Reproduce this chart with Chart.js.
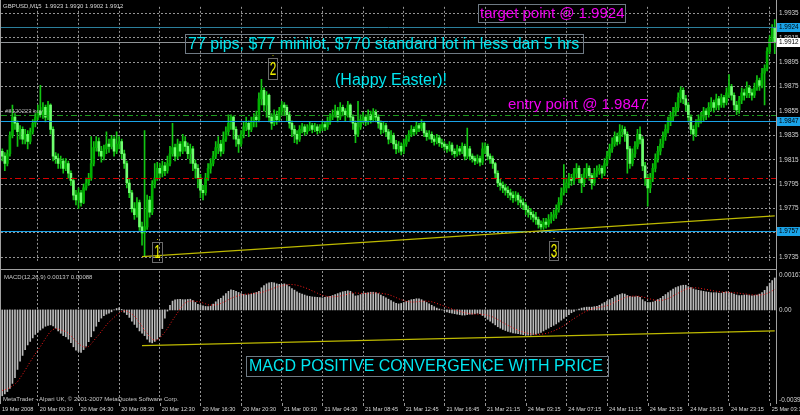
<!DOCTYPE html>
<html><head><meta charset="utf-8">
<script src="https://cdn.jsdelivr.net/npm/chart.js@4.4.1/dist/chart.umd.min.js"></script>
<style>
html,body{margin:0;padding:0;background:#000;width:800px;height:415px;overflow:hidden}
#w1{position:absolute;left:0;top:0;width:800px;height:268px}
#w2{position:absolute;left:0;top:268px;width:800px;height:147px}
</style></head><body>
<div id="w1"><canvas id="c1"></canvas></div>
<div id="w2"><canvas id="c2"></canvas></div>
<script>
// ---------- DATA (prices in pips above 1.9700, MACD in 0.00001 units) ----------
const PIP_BASE = 1.9700;
const OPEN0 = 122;
const closePips = [
118,112,120,135,150,145,138,140,132,136,
130,138,145,150,155,152,158,150,160,140,
118,116,112,114,108,112,104,98,86,82,
88,80,92,96,100,112,125,130,122,118,
124,128,126,132,122,128,130,120,112,96,
88,75,70,80,60,55,60,82,72,95,
100,108,104,110,106,112,120,125,118,128,
122,130,126,120,124,112,108,100,90,88,
100,108,112,118,125,128,122,132,138,145,
150,140,132,128,136,142,145,140,146,150,
148,165,172,160,168,150,145,152,148,155,
160,158,152,145,140,136,132,140,142,138,
141,143,140,142,139,141,144,142,146,150,
152,155,150,158,155,152,160,150,145,136,
142,148,150,146,152,148,154,150,145,140,
143,138,132,135,128,124,126,122,128,132,
136,140,138,143,141,145,137,134,136,132,
130,133,129,128,126,124,127,122,120,124,
122,126,118,124,118,116,114,116,113,124,
126,118,116,112,104,96,94,92,90,88,
86,84,86,82,80,78,74,72,70,68,
66,62,60,64,62,66,68,70,74,80,
88,92,96,100,98,104,108,100,96,104,
108,102,96,104,106,108,104,112,118,124,
128,134,130,138,140,136,124,112,120,126,
136,132,110,100,92,100,108,116,122,128,
134,140,146,150,154,158,166,172,165,160,
150,140,136,145,148,150,155,152,158,162,
158,165,160,166,162,170,175,168,160,156,
164,170,168,174,170,168,174,180,176,186,
190,204,214,223,212];
const highPips = [
124,121,123,138,160,153,147,143,142,140,
139,141,148,153,160,176,162,160,163,161,
142,121,120,118,116,116,114,106,100,90,
92,90,95,100,104,134,130,134,133,126,
127,138,132,135,134,138,134,132,123,114,
99,90,80,84,82,64,139,86,85,98,
112,113,112,114,113,118,126,145,128,132,
130,136,134,129,128,126,115,111,103,94,
104,112,116,122,130,134,131,138,142,152,
152,151,142,135,139,146,150,147,150,153,
155,170,181,174,171,169,153,156,155,158,
163,162,160,154,147,143,139,143,145,144,
144,146,145,145,144,144,147,146,150,153,
156,160,158,162,160,157,163,161,152,147,
163,152,154,152,156,155,157,156,152,147,
146,145,140,139,137,131,130,129,132,135,
139,143,142,146,145,148,146,139,139,138,
135,136,135,132,130,128,130,129,124,127,
126,129,128,141,126,120,118,119,118,129,
129,128,120,118,113,106,99,97,95,93,
91,89,89,88,85,83,80,77,75,73,
72,68,65,67,67,70,72,74,78,84,
92,111,100,104,103,108,112,110,103,108,
112,110,104,108,110,111,110,116,122,128,
133,138,137,144,143,142,138,126,124,130,
140,142,134,113,103,104,112,120,126,132,
138,144,150,154,158,162,170,175,174,168,
162,152,143,148,152,154,158,157,162,166,
164,169,167,169,168,174,185,177,170,163,
167,174,173,179,176,173,178,184,182,190,
193,207,217,226,230];
const lowPips = [
114,106,110,118,133,140,126,132,128,128,
124,128,136,142,148,150,149,146,148,136,
114,112,108,108,104,106,100,94,82,78,
75,77,79,90,94,98,110,122,118,113,
115,120,121,124,118,120,124,116,108,92,
84,72,66,68,57,45,36,58,68,70,
92,98,100,101,102,104,110,118,114,116,
118,120,122,116,112,106,100,92,84,82,
86,98,104,110,116,120,118,120,130,135,
140,132,126,121,126,133,139,134,138,142,
142,146,160,155,150,146,140,143,144,146,
152,152,147,141,134,129,128,130,137,135,
136,139,137,138,136,137,139,139,140,144,
148,150,146,148,151,147,150,146,140,129,
134,140,145,143,144,145,146,146,141,136,
137,134,128,129,124,120,121,119,120,126,
130,134,135,136,138,139,134,131,132,129,
127,128,126,125,123,121,122,119,117,118,
119,120,115,116,115,113,111,112,110,111,
120,115,112,108,100,93,90,88,86,84,
82,80,81,78,76,74,70,68,66,64,
62,59,58,58,59,60,63,65,67,72,
78,86,88,92,94,95,100,96,88,93,
100,98,91,94,101,103,100,102,110,116,
121,126,127,128,134,130,104,108,110,117,
124,128,106,94,77,88,97,105,113,119,
125,131,137,143,147,151,155,162,161,155,
146,136,131,134,142,145,147,148,150,155,
154,156,156,158,158,160,166,164,156,152,
153,161,164,166,166,164,166,172,172,174,
160,188,202,212,202];
const macdMain = [
-368,-360,-350,-336,-315,-290,-255,-220,-195,-170,
-150,-135,-120,-105,-95,-86,-78,-70,-66,-64,
-68,-78,-90,-100,-110,-115,-125,-140,-158,-172,
-178,-182,-170,-155,-136,-115,-90,-70,-50,-35,
-25,-18,-14,-8,0,6,9,2,-10,-20,
-32,-48,-62,-75,-90,-100,-110,-125,-138,-141,
-135,-125,-115,-80,-35,-5,20,38,43,45,
45,44,44,45,46,40,32,24,21,18,
15,14,16,25,35,45,50,60,70,80,
86,84,80,75,70,66,64,66,68,72,
75,80,95,105,112,116,118,116,112,110,
110,112,108,100,92,85,78,72,68,64,
60,58,56,55,54,53,52,54,56,58,
62,66,70,74,78,80,82,80,70,60,
62,66,70,72,74,76,76,74,70,64,
58,52,46,40,34,28,26,28,32,36,
40,44,46,48,48,44,38,32,26,20,
14,8,4,0,-4,-8,-12,-14,-16,-18,
-20,-22,-22,-20,-18,-18,-16,-14,-16,-24,
-32,-40,-48,-56,-64,-72,-78,-84,-88,-92,
-95,-98,-100,-102,-104,-106,-108,-108,-108,-106,
-104,-100,-96,-90,-84,-78,-72,-66,-60,-52,
-44,-36,-28,-20,-12,-6,0,4,8,10,
12,12,12,14,16,20,26,32,38,44,
50,56,62,66,70,68,62,58,56,56,
58,54,44,36,32,32,34,38,44,50,
58,66,74,82,90,96,100,104,106,106,
100,96,90,86,84,82,80,78,76,74,
74,74,72,72,76,78,76,72,68,64,
62,62,64,64,62,60,62,64,68,74,
84,100,115,126,137];
const macdSignal = [
-345,-342,-338,-333,-326,-318,-308,-292,-276,-258,
-240,-222,-205,-188,-172,-157,-140,-122,-106,-92,
-84,-80,-81,-85,-89,-93,-100,-110,-122,-134,
-145,-153,-158,-160,-156,-146,-132,-118,-107,-92,
-78,-64,-52,-42,-32,-22,-14,-6,-3,-5,
-10,-18,-26,-40,-55,-70,-86,-100,-115,-126,
-130,-128,-120,-108,-95,-80,-62,-44,-28,-12,
5,20,30,36,38,38,37,36,34,30,
26,22,21,21,22,24,28,33,38,44,
50,54,58,62,64,66,68,69,70,71,
72,73,75,78,82,86,90,94,98,101,
104,106,108,109,109,108,106,103,100,96,
92,87,82,77,72,67,63,60,57,56,
56,57,58,60,62,65,68,71,73,73,
72,71,71,71,71,72,72,73,73,72,
70,68,66,62,58,53,48,44,40,37,
35,34,34,35,36,37,38,38,37,35,
32,28,24,20,16,12,8,4,0,-3,
-6,-9,-12,-14,-16,-17,-18,-18,-18,-19,
-20,-23,-26,-30,-35,-41,-47,-54,-60,-66,
-72,-77,-82,-87,-91,-95,-98,-101,-103,-104,
-105,-105,-104,-103,-101,-98,-94,-90,-85,-80,
-74,-67,-60,-52,-44,-37,-30,-23,-16,-10,
-5,0,4,7,9,11,13,16,19,23,
28,33,38,43,48,53,56,58,59,59,
59,58,56,53,50,47,44,42,41,41,
42,45,49,54,60,66,72,78,84,89,
92,94,95,95,94,92,90,88,86,84,
82,80,79,77,76,76,76,75,74,73,
72,70,69,68,66,65,64,64,64,65,
67,71,76,82,88];
const tickBars = [0,14,30,46,62,78,94,110,126,142,158,174,190,206,222,238,254,270,286,302];
const tickLabels = ['19 Mar 2008','20 Mar 00:30','20 Mar 04:30','20 Mar 08:30','20 Mar 12:30','20 Mar 16:30','20 Mar 20:30','21 Mar 00:30','21 Mar 04:30','21 Mar 08:45','21 Mar 12:45','21 Mar 16:45','21 Mar 21:15','24 Mar 03:15','24 Mar 07:15','24 Mar 11:15','24 Mar 15:15','24 Mar 19:15','24 Mar 23:15','25 Mar 03:15'];
const priceTicks = [1.9735,1.9755,1.9775,1.9795,1.9815,1.9835,1.9855,1.9875,1.9895,1.9915,1.9935];
const priceRange = [1.973186, 1.994049];
const macdRange = [-0.00399, 0.00167];
const lineLevels = [1.9924, 1.9912, 1.9847, 1.9757, 1.9800, 1.9852]; // target, bid, entry, support, red, order
const trendBars = [55, 304];
const trendPrices = [1.97355, 1.97690];
const macdTrendValues = [-0.00153, -0.00090];
const headerText = 'GBPUSD,M15  1.9923 1.9930 1.9902 1.9912';
const orderText = '#8120223 buy';
const macdTitle = 'MACD(12,26,9) 0.00137 0.00088';
const footerText = 'MetaTrader - Alpari UK, \u00A9 2001-2007 MetaQuotes Software Corp.';
const noteTexts = ['target point @ 1.9924','77 pips, $77 minilot, $770 standard lot in less dan 5 hrs','(Happy Easter)!','entry point @ 1.9847','MACD POSITIVE CONVERGENCE WITH PRICE'];
const pointLabels = ['1','2','3'];

// ---------- derived ----------
const toPrice = p => +(PIP_BASE + p/10000).toFixed(4);
const close = closePips.map(toPrice), high = highPips.map(toPrice), low = lowPips.map(toPrice);
const open = close.map((c,i)=> i ? close[i-1] : toPrice(OPEN0));
const labels = close.map((_,i)=>String(i));
const gridSet = new Set(tickBars.slice(1));
const GRID = 'rgba(185,185,185,0.8)';
const FONT = '"Liberation Sans", Arial, sans-serif';
const BULL = '#00b000', BEAR = '#70ff70', WICK = '#12c412';
const BLUE = '#1aa3e8';
const TREND = '#bdb900';

function xAxis(){
  return { type:'category', offset:true,
    ticks:{display:false, autoSkip:false},
    grid:{offset:false, drawTicks:false, lineWidth:1,
      color: c => gridSet.has(c.index) ? GRID : 'rgba(0,0,0,0)'},
    border:{display:false, dash:[2,2]},
    afterFit: s => { s.height = 0; } };
}

function box(ctx,x,y,w,h,col){ ctx.strokeStyle=col; ctx.lineWidth=1; ctx.setLineDash([]); ctx.strokeRect(x+0.5,y+0.5,w,h); }

const mainOverlay = {
  id:'mainOverlay',
  afterDatasetsDraw(chart){
    const {ctx, chartArea:a, scales:{x,y}} = chart;
    ctx.save();
    ctx.beginPath(); ctx.rect(a.left,a.top,a.right-a.left,a.bottom-a.top); ctx.clip();
    const styles = [
      {c:'#2b7f9c', d:[]}, {c:'#8f9396', d:[]}, {c:BLUE, d:[]}, {c:BLUE, d:[]},
      {c:'#d40000', d:[6,3,2,3]}, {c:'#1d9a1d', d:[6,3,2,3]}];
    lineLevels.forEach((v,k)=>{
      const py = Math.round(y.getPixelForValue(v))+0.5;
      ctx.strokeStyle = styles[k].c; ctx.setLineDash(styles[k].d); ctx.lineWidth=1;
      ctx.beginPath(); ctx.moveTo(a.left,py); ctx.lineTo(a.right,py); ctx.stroke();
    });
    ctx.setLineDash([]);
    ctx.strokeStyle = TREND; ctx.lineWidth = 1.2;
    ctx.beginPath();
    ctx.moveTo(x.getPixelForValue(trendBars[0]), y.getPixelForValue(trendPrices[0]));
    ctx.lineTo(x.getPixelForValue(trendBars[1]), y.getPixelForValue(trendPrices[1]));
    ctx.stroke();
    ctx.restore();
  },
  afterDraw(chart){
    const {ctx, chartArea:a, scales:{y}} = chart;
    ctx.save();
    ctx.strokeStyle='#a0a0a0'; ctx.lineWidth=1;
    ctx.beginPath(); ctx.moveTo(a.right+0.5,0); ctx.lineTo(a.right+0.5,268);
    ctx.moveTo(0.5,0); ctx.lineTo(0.5,268); ctx.stroke();
    ctx.textBaseline='middle'; ctx.textAlign='left';
    ctx.font = '6px '+FONT; ctx.fillStyle='#d8d8d8';
    ctx.fillText(headerText, 3, 6.5);
    ctx.fillStyle='#a8a8a8'; ctx.fillText(orderText, 5, 111);
    box(ctx,478,4,147,18,'#6f7a84');
    ctx.font='15px '+FONT; ctx.fillStyle='#f000f0';
    ctx.fillText(noteTexts[0], 480, 14);
    box(ctx,185,34,398,19,'#6f7a84');
    ctx.font='16px '+FONT; ctx.fillStyle='#00e6f0';
    ctx.fillText(noteTexts[1], 188, 44.5);
    ctx.fillText(noteTexts[2], 335, 80.5);
    ctx.font='15px '+FONT; ctx.fillStyle='#f000f0';
    ctx.fillText(noteTexts[3], 508, 104.5);
    const pl = [[152,242,10,20],[268,58,9,21],[549,241,9,19]];
    pl.forEach((p,k)=>{
      box(ctx,p[0],p[1],p[2],p[3],'#6a6a6a');
      ctx.fillStyle=TREND; ctx.fillRect(p[0]+p[2]/2, p[1]-3, 1, 1);
      ctx.save(); ctx.translate(p[0]+p[2]/2+0.5, p[1]+p[3]/2+1); ctx.scale(0.62,1);
      ctx.font='19px '+FONT; ctx.fillStyle='#f0f000'; ctx.textAlign='center'; ctx.textBaseline='middle';
      ctx.fillText(pointLabels[k],0,0); ctx.restore();
    });
    const hb = [[lineLevels[0],BLUE,'#000'],[lineLevels[1],'#ffffff','#000'],[lineLevels[2],BLUE,'#000'],[lineLevels[3],BLUE,'#000']];
    ctx.font='6.4px '+FONT; ctx.textAlign='left'; ctx.textBaseline='middle';
    hb.forEach(h=>{
      const py = Math.round(y.getPixelForValue(h[0]));
      ctx.fillStyle=h[1]; ctx.fillRect(a.right+1, py-4, 23, 9);
      ctx.fillStyle=h[2]; ctx.fillText(h[0].toFixed(4), a.right+3, py+0.5);
    });
    ctx.restore();
  }
};

const macdOverlay = {
  id:'macdOverlay',
  afterDatasetsDraw(chart){
    const {ctx, scales:{x,y}} = chart;
    ctx.save();
    ctx.strokeStyle = TREND; ctx.lineWidth = 1.2;
    ctx.beginPath();
    ctx.moveTo(x.getPixelForValue(trendBars[0]), y.getPixelForValue(macdTrendValues[0]));
    ctx.lineTo(x.getPixelForValue(trendBars[1]), y.getPixelForValue(macdTrendValues[1]));
    ctx.stroke();
    ctx.restore();
  },
  afterDraw(chart){
    const {ctx, chartArea:a, scales:{x,y}} = chart;
    ctx.save();
    ctx.strokeStyle='#a0a0a0'; ctx.lineWidth=1;
    ctx.beginPath(); ctx.moveTo(0,1.5); ctx.lineTo(a.right,1.5);
    ctx.moveTo(a.right+0.5,0); ctx.lineTo(a.right+0.5,136);
    ctx.moveTo(0.5,0); ctx.lineTo(0.5,136); ctx.stroke();
    ctx.textAlign='left'; ctx.textBaseline='middle';
    ctx.font='6px '+FONT; ctx.fillStyle='#c8c8c8';
    ctx.fillText(macdTitle, 4, 9.5);
    ctx.fillText(footerText, 3, 131);
    box(ctx,246,88,362,20,'#6f7a84');
    ctx.font='16px '+FONT; ctx.fillStyle='#00e6f0';
    ctx.fillText(noteTexts[4], 249, 98.5);
    ctx.font='6.4px '+FONT; ctx.fillStyle='#d4d4d4';
    ctx.fillText(macdRange[1].toFixed(5), a.right+3, a.top+4);
    ctx.fillText('0.00', a.right+3, y.getPixelForValue(0)+0.5);
    ctx.fillText(macdRange[0].toFixed(5), a.right+3, a.bottom-3);
    ctx.font='5.6px '+FONT; ctx.fillStyle='#d8d8d8';
    ctx.strokeStyle=GRID;
    tickBars.forEach((b,k)=>{
      const px = x.getPixelForValue(b);
      const lx = k===0 ? a.left+1 : px+2;
      ctx.fillText(tickLabels[k], lx, 141.5);
      if(k>0){ ctx.beginPath(); ctx.moveTo(Math.round(px)+0.5,a.bottom); ctx.lineTo(Math.round(px)+0.5,a.bottom+3); ctx.stroke(); }
    });
    ctx.restore();
  }
};

Chart.defaults.font.family = FONT;
new Chart(document.getElementById('c1'), {
  type:'bar',
  data:{ labels, datasets:[
    { data: high.map((h,i)=>[low[i],h]), backgroundColor: WICK, barThickness:1, grouped:false, borderWidth:0, order:2 },
    { data: open.map((o,i)=>[o, close[i]]), backgroundColor: c => close[c.dataIndex] >= open[c.dataIndex] ? BULL : BEAR,
      barThickness:2, grouped:false, borderWidth:0, minBarLength:1, order:1 }
  ]},
  options:{ responsive:true, maintainAspectRatio:false, animation:false, devicePixelRatio:1,
    layout:{padding:{left:1, top:1, right:0, bottom:1}},
    plugins:{legend:{display:false}, tooltip:{enabled:false}},
    scales:{ x: xAxis(),
      y:{ position:'right', min:priceRange[0], max:priceRange[1],
        afterFit: s => { s.width = 24; },
        afterBuildTicks: s => { s.ticks = priceTicks.map(v=>({value:v})); },
        ticks:{ color:'#d4d4d4', font:{size:6.4}, padding:3, callback: v => Number(v).toFixed(4) },
        grid:{ color:GRID, drawTicks:false, lineWidth:1 }, border:{display:false, dash:[2,2]} } } },
  plugins:[mainOverlay]
});

new Chart(document.getElementById('c2'), {
  type:'bar',
  data:{ labels, datasets:[
    { type:'line', data: macdSignal.map(v=>v/100000), borderColor:'#ff1a1a', borderWidth:1, borderDash:[1,2],
      pointRadius:0, tension:0, fill:false, order:1 },
    { data: macdMain.map(v=>v/100000), backgroundColor:'#bcbcbc', barThickness:1, borderWidth:0, order:2 }
  ]},
  options:{ responsive:true, maintainAspectRatio:false, animation:false, devicePixelRatio:1,
    layout:{padding:{left:1, top:3, right:0, bottom:12}},
    plugins:{legend:{display:false}, tooltip:{enabled:false}},
    scales:{ x: xAxis(),
      y:{ position:'right', min:macdRange[0], max:macdRange[1],
        afterFit: s => { s.width = 24; },
        ticks:{display:false}, grid:{display:false}, border:{display:false} } } },
  plugins:[macdOverlay]
});
</script>
</body></html>
